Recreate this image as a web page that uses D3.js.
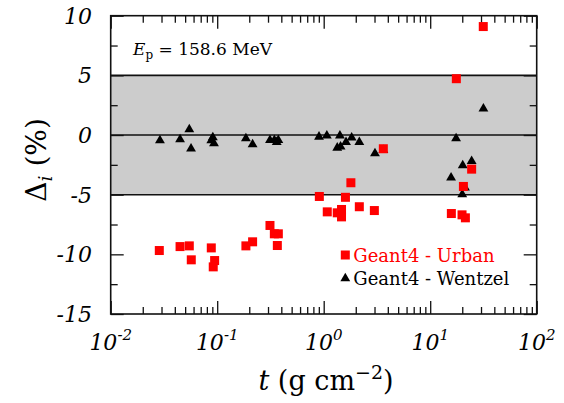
<!DOCTYPE html>
<html lang="en">
<head>
<meta charset="utf-8">
<title>Delta vs t</title>
<script src="https://cdn.jsdelivr.net/npm/d3@7"></script>
<style>
  html, body { margin: 0; padding: 0; background: #fff; }
</style>
</head>
<body>
<script>
// Geant4 - Urban (red squares)
let urbanT = [0.0286, 0.0448, 0.0547, 0.0571, 0.088, 0.0946, 0.0918, 0.186, 0.215,
              0.313, 0.344, 0.375, 0.367, 0.91, 1.08, 1.34, 1.47, 1.47, 1.60, 1.80,
              2.16, 2.99, 3.63, 15.8, 17.6, 19.9, 20.5, 21.4, 24.5, 31.5];
let urbanD = [-9.68, -9.35, -9.29, -10.46, -9.46, -10.52, -11.05, -9.29, -8.95,
              -7.58, -8.28, -8.28, -9.26, -5.15, -6.44, -6.52, -6.24, -6.86, -5.22, -4.0,
              -6.01, -6.33, -1.15, -6.58, 4.72, -6.69, -4.31, -6.94, -2.86, 9.09];

// Geant4 - Wentzel (black triangles)
let wentzelT = [0.029, 0.0448, 0.0547, 0.0568, 0.088, 0.091, 0.0933, 0.186, 0.215,
                0.313, 0.344, 0.362, 0.375, 0.904, 1.07, 1.34, 1.42, 1.44, 1.62, 1.83,
                2.16, 3.03, 3.63, 15.7, 17.5, 20.0, 20.2, 21.2, 24.5, 31.6];
let wentzelD = [-0.45, -0.37, 0.47, -1.15, -0.45, -0.2, -0.7, -0.29, -0.79,
                -0.43, -0.43, -0.6, -0.43, -0.15, -0.05, -1.07, -0.05, -0.98, -0.6, -0.23,
                -0.6, -1.54, -1.27, -3.58, -0.29, -4.98, -2.55, -4.42, -2.2, 2.2];

let yTicks = [-15, -10, -5, 0, 5, 10];
let yMinor = [-12.5, -7.5, -2.5, 2.5, 7.5];
let xTicks = [0.01, 0.1, 1, 10, 100];
let xExp = ["-2", "-1", "0", "1", "2"];
let band = [-5, 5];
let refLines = [-5, 0, 5];

let w = 564, h = 403;
let pLeft = 110.7, pRight = 536.7, pTop = 15.7, pBottom = 314;
let fontSerif = "'DejaVu Serif'";

let svg = d3.select("body").append("svg")
  .attr("width", w).attr("height", h);

let xScale = d3.scaleLog().domain([0.01, 100]).range([pLeft, pRight]);
let yScale = d3.scaleLinear().domain([-15, 10]).range([pBottom, pTop]);

// shaded band
svg.append("rect")
  .attr("x", pLeft).attr("width", pRight - pLeft)
  .attr("y", yScale(band[1])).attr("height", yScale(band[0]) - yScale(band[1]))
  .attr("fill", "#cccccc");

svg.selectAll("line.ref")
  .data(refLines).enter().append("line")
  .attr("class", "ref")
  .attr("x1", pLeft).attr("x2", pRight)
  .attr("y1", d => yScale(d)).attr("y2", d => yScale(d))
  .attr("stroke", "#111").attr("stroke-width", 1.6);

// minor x ticks (2..9 in each decade)
let xMinor = [];
for (let e = -2; e < 2; e++) {
  for (let k = 2; k <= 9; k++) xMinor.push(k * Math.pow(10, e));
}

function styleAxis(g) {
  g.select(".domain").remove();
  g.selectAll("line").attr("stroke", "#111").attr("stroke-width", 1.3);
  g.selectAll("text").remove();
}

svg.append("g").attr("transform", "translate(0," + pBottom + ")")
  .call(d3.axisBottom(xScale).tickValues(xTicks).tickSize(-13).tickFormat(""))
  .call(styleAxis);
svg.append("g").attr("transform", "translate(0," + pBottom + ")")
  .call(d3.axisBottom(xScale).tickValues(xMinor).tickSize(-7).tickFormat(""))
  .call(styleAxis);
svg.append("g").attr("transform", "translate(0," + pTop + ")")
  .call(d3.axisTop(xScale).tickValues(xTicks).tickSize(-13).tickFormat(""))
  .call(styleAxis);
svg.append("g").attr("transform", "translate(0," + pTop + ")")
  .call(d3.axisTop(xScale).tickValues(xMinor).tickSize(-7).tickFormat(""))
  .call(styleAxis);

svg.append("g").attr("transform", "translate(" + pLeft + ",0)")
  .call(d3.axisLeft(yScale).tickValues(yTicks).tickSize(-13).tickFormat(""))
  .call(styleAxis);
svg.append("g").attr("transform", "translate(" + pLeft + ",0)")
  .call(d3.axisLeft(yScale).tickValues(yMinor).tickSize(-7).tickFormat(""))
  .call(styleAxis);
svg.append("g").attr("transform", "translate(" + pRight + ",0)")
  .call(d3.axisRight(yScale).tickValues(yTicks).tickSize(-13).tickFormat(""))
  .call(styleAxis);
svg.append("g").attr("transform", "translate(" + pRight + ",0)")
  .call(d3.axisRight(yScale).tickValues(yMinor).tickSize(-7).tickFormat(""))
  .call(styleAxis);

// frame
svg.append("rect")
  .attr("x", pLeft).attr("y", pTop)
  .attr("width", pRight - pLeft).attr("height", pBottom - pTop)
  .attr("fill", "none").attr("stroke", "#111").attr("stroke-width", 1.6);

// y tick labels
svg.selectAll("text.ylab")
  .data(yTicks).enter().append("text")
  .attr("class", "ylab")
  .attr("x", 92).attr("y", d => yScale(d)).attr("dy", "0.36em")
  .attr("text-anchor", "end")
  .style("font-family", fontSerif).style("font-size", "22px").style("font-style", "italic")
  .text(d => d < 0 ? "-" + Math.abs(d) : d);

// x tick labels
let xl = svg.selectAll("text.xlab")
  .data(xTicks).enter().append("text")
  .attr("class", "xlab")
  .attr("x", d => xScale(d)).attr("y", 350)
  .attr("text-anchor", "middle")
  .style("font-family", fontSerif).style("font-size", "22px").style("font-style", "italic");
xl.append("tspan").text("10");
xl.append("tspan").attr("dy", -10).style("font-size", "15px").text((d, i) => xExp[i]);

// markers
svg.selectAll("path.wentzel")
  .data(wentzelT).enter().append("path")
  .attr("class", "wentzel")
  .attr("d", d3.symbol().type(d3.symbolTriangle).size(42))
  .attr("transform", (d, i) => "translate(" + xScale(d) + "," + yScale(wentzelD[i]) + ")")
  .attr("fill", "#000");

svg.selectAll("rect.urban")
  .data(urbanT).enter().append("rect")
  .attr("class", "urban")
  .attr("x", d => xScale(d) - 4.5)
  .attr("y", (d, i) => yScale(urbanD[i]) - 4.5)
  .attr("width", 9).attr("height", 9)
  .attr("fill", "#ff0000");

// energy annotation
let ann = svg.append("text").attr("x", 133).attr("y", 55)
  .style("font-family", fontSerif).style("font-size", "17px");
ann.append("tspan").style("font-style", "italic").text("E");
ann.append("tspan").attr("dy", 4).style("font-size", "12px").text("p");
ann.append("tspan").attr("dy", -4).text(" = 158.6 MeV");

// legend
let legend = [
  {name: "Geant4 - Urban", color: "#ff0000", shape: "square"},
  {name: "Geant4 - Wentzel", color: "#000", shape: "triangle"}
];
let lg = svg.selectAll("g.leg").data(legend).enter().append("g")
  .attr("class", "leg")
  .attr("transform", (d, i) => "translate(345.3," + (255 + i * 23.5) + ")");
lg.each(function(d) {
  let g = d3.select(this);
  if (d.shape === "square") {
    g.append("rect").attr("x", -4.5).attr("y", -4.5).attr("width", 9).attr("height", 9).attr("fill", d.color);
  } else {
    g.append("path").attr("d", d3.symbol().type(d3.symbolTriangle).size(42)).attr("fill", d.color);
  }
});
lg.append("text")
  .attr("x", 8).attr("y", 6.5)
  .style("font-family", fontSerif).style("font-size", "18px")
  .attr("fill", d => d.color)
  .text(d => d.name);

// axis titles
let xt = svg.append("text").attr("x", 326).attr("y", 390)
  .attr("text-anchor", "middle")
  .style("font-family", fontSerif).style("font-size", "27px");
xt.append("tspan").style("font-style", "italic").text("t");
xt.append("tspan").text(" (g cm");
xt.append("tspan").attr("dy", -11).style("font-size", "19px").text("\u22122");
xt.append("tspan").attr("dy", 11).text(")");

let yt = svg.append("text")
  .attr("transform", "translate(46,160) rotate(-90)")
  .attr("text-anchor", "middle")
  .style("font-family", fontSerif).style("font-size", "28px");
yt.append("tspan").text("\u0394");
yt.append("tspan").attr("dy", 6).style("font-size", "19px").style("font-style", "italic").text("i");
yt.append("tspan").attr("dy", -6).text(" (%)");
</script>
</body>
</html>
